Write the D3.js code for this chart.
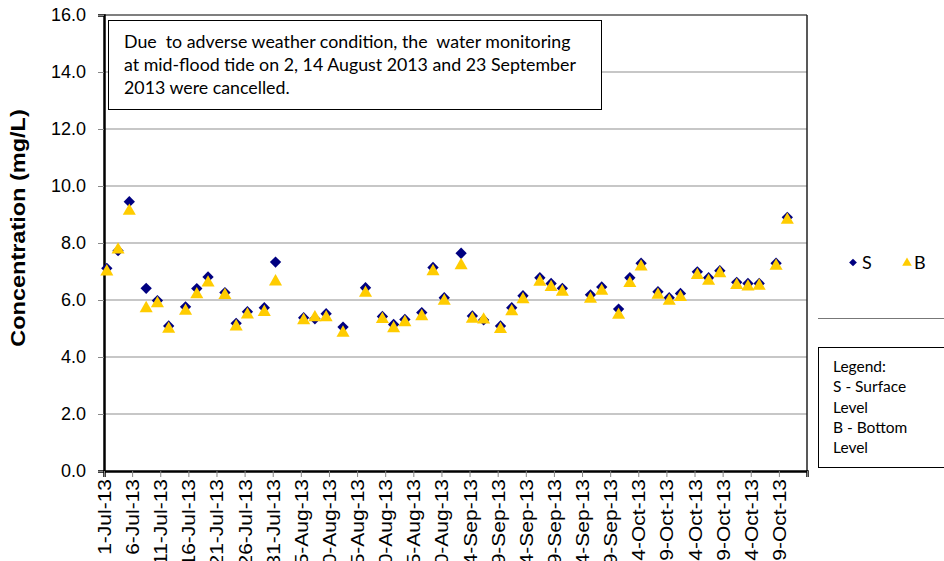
<!DOCTYPE html>
<html>
<head>
<meta charset="utf-8">
<title>Concentration chart</title>
<script src="https://d3js.org/d3.v7.min.js"></script>
<style>
  body {margin: 0; background: #fff;}
  svg {display: block; font-family: "Liberation Sans", Arial, sans-serif;}
  .note, .leg {font-family: Lato, "Open Sans", sans-serif;}
</style>
</head>
<body>
<div id="chart"></div>
<script>
// sampling dates (mid-flood tide)
var dates = ["2013-07-01","2013-07-03","2013-07-05","2013-07-08","2013-07-10","2013-07-12","2013-07-15","2013-07-17","2013-07-19","2013-07-22",
             "2013-07-24","2013-07-26","2013-07-29","2013-07-31","2013-08-05","2013-08-07","2013-08-09","2013-08-12","2013-08-16","2013-08-19",
             "2013-08-21","2013-08-23","2013-08-26","2013-08-28","2013-08-30","2013-09-02","2013-09-04","2013-09-06","2013-09-09","2013-09-11",
             "2013-09-13","2013-09-16","2013-09-18","2013-09-20","2013-09-25","2013-09-27","2013-09-30","2013-10-02","2013-10-04","2013-10-07",
             "2013-10-09","2013-10-11","2013-10-14","2013-10-16","2013-10-18","2013-10-21","2013-10-23","2013-10-25","2013-10-28","2013-10-30"];
// S - surface level
var surface = [7.11,7.73,9.45,6.41,5.98,5.09,5.76,6.40,6.81,6.26,
               5.18,5.59,5.73,7.33,5.38,5.34,5.52,5.05,6.43,5.42,
               5.14,5.32,5.56,7.14,6.08,7.64,5.44,5.30,5.09,5.73,
               6.15,6.78,6.58,6.41,6.18,6.46,5.68,6.78,7.29,6.29,
               6.08,6.23,6.99,6.78,7.03,6.62,6.58,6.58,7.29,8.90];
// B - bottom level
var bottom = [7.03,7.80,9.16,5.74,5.91,5.02,5.65,6.23,6.64,6.20,
              5.10,5.52,5.61,6.68,5.32,5.42,5.42,4.88,6.28,5.36,
              5.04,5.25,5.46,7.04,6.00,7.25,5.37,5.34,5.01,5.63,
              6.05,6.67,6.48,6.32,6.07,6.35,5.51,6.62,7.20,6.21,
              6.00,6.13,6.90,6.70,6.97,6.55,6.50,6.53,7.23,8.84];
var xTickLabels = ["1-Jul-13","6-Jul-13","11-Jul-13","16-Jul-13","21-Jul-13","26-Jul-13","31-Jul-13","5-Aug-13","10-Aug-13","15-Aug-13",
                   "20-Aug-13","25-Aug-13","30-Aug-13","4-Sep-13","9-Sep-13","14-Sep-13","19-Sep-13","24-Sep-13","29-Sep-13","4-Oct-13",
                   "9-Oct-13","14-Oct-13","19-Oct-13","24-Oct-13","29-Oct-13"];
var yTicks = [0,2,4,6,8,10,12,14,16];
var noteLines = ["Due  to adverse weather condition, the  water monitoring",
                 "at mid-flood tide on 2, 14 August 2013 and 23 September",
                 "2013 were cancelled."];
var legendLines = ["Legend:","S - Surface","Level","B - Bottom","Level"];

var W = 944, H = 561;
var plotL = 104, plotR = 807, plotT = 15, plotB = 471;
var parse = d3.utcParse("%Y-%m-%d");
var parseTick = d3.utcParse("%-d-%b-%y");
var tickDates = xTickLabels.map(parseTick);
var axisEnd = d3.utcDay.offset(tickDates[tickDates.length - 1], 5);

var data = dates.map(function(d, i) { return {date: parse(d), s: surface[i], b: bottom[i]}; });

var svg = d3.select("#chart").append("svg").attr("width", W).attr("height", H);

var x = d3.scaleUtc().domain([tickDates[0], axisEnd]).range([plotL, plotR]);
var y = d3.scaleLinear().domain([0, 16]).range([plotB, plotT]);
var half = (x(d3.utcDay.offset(tickDates[0], 1)) - x(tickDates[0])) / 2;

// gridlines
svg.append("g").selectAll("line").data(yTicks.slice(1)).join("line")
   .attr("x1", plotL).attr("x2", plotR)
   .attr("y1", function(d) { return y(d); }).attr("y2", function(d) { return y(d); })
   .attr("stroke", function(d) { return d == 16 ? "#555" : "#b4b4b4"; })
   .attr("stroke-width", 1.3);
svg.append("line").attr("x1", plotR).attr("x2", plotR).attr("y1", plotT).attr("y2", plotB)
   .attr("stroke", "#222").attr("stroke-width", 1.5);

// y axis
var yAxis = svg.append("g").attr("transform", "translate(" + plotL + ",0)")
   .call(d3.axisLeft(y).tickValues(yTicks).tickFormat(d3.format(".1f")).tickSize(6).tickPadding(12));
yAxis.select(".domain").attr("stroke", "#000").attr("stroke-width", 2.5);
yAxis.selectAll(".tick line").attr("stroke", "#888");
yAxis.selectAll("text").attr("font-size", 18).attr("fill", "#000").attr("font-family", "Liberation Sans, Arial");

// x axis (labels slightly condensed like the original)
var xAxis = svg.append("g").attr("transform", "translate(0," + plotB + ")")
   .call(d3.axisBottom(x).tickValues(tickDates.concat([axisEnd])).tickSize(6)
         .tickFormat(function(d, i) { return i < xTickLabels.length ? xTickLabels[i] : ""; }));
xAxis.select(".domain").attr("stroke", "#000").attr("stroke-width", 2.5);
xAxis.selectAll(".tick line").attr("stroke", "#888");
xAxis.selectAll("text").attr("font-size", 21).attr("fill", "#000").attr("font-family", "Liberation Sans, Arial")
   .attr("text-anchor", "end").attr("transform", "rotate(-90) scale(1,0.88)")
   .attr("x", -8).attr("y", 0).attr("dy", "0.35em");

svg.append("text").attr("transform", "translate(25,228) rotate(-90) scale(1,0.85)")
   .attr("text-anchor", "middle").attr("font-weight", "bold").attr("font-size", 23.5)
   .text("Concentration (mg/L)");

// markers
var diamond = d3.symbol().type(d3.symbolSquare).size(64);
var tri = d3.symbol().type(d3.symbolTriangle).size(74);
svg.append("g").selectAll("path").data(data).join("path")
   .attr("d", diamond)
   .attr("transform", function(d) { return "translate(" + (x(d.date) + half) + "," + y(d.s) + ") rotate(45)"; })
   .attr("fill", "#000080");
svg.append("g").selectAll("path").data(data).join("path")
   .attr("d", tri)
   .attr("transform", function(d) { return "translate(" + (x(d.date) + half) + "," + (y(d.b) + 1) + ")"; })
   .attr("fill", "#ffcc00");

// note box
svg.append("rect").attr("x", 108.5).attr("y", 20.5).attr("width", 493).attr("height", 89)
   .attr("fill", "#fff").attr("stroke", "#000");
svg.append("g").attr("class", "note").selectAll("text").data(noteLines).join("text")
   .attr("x", 124).attr("y", function(d, i) { return 48 + i * 23; })
   .attr("font-size", 17.8).style("white-space", "pre").text(function(d) { return d; });

// legend
svg.append("line").attr("x1", 818).attr("x2", 944).attr("y1", 318.5).attr("y2", 318.5).attr("stroke", "#777");
svg.append("rect").attr("x", 818.5).attr("y", 347.5).attr("width", 140).attr("height", 120)
   .attr("fill", "#fff").attr("stroke", "#000");
var lg = svg.append("g").attr("class", "leg");
lg.append("path").attr("d", diamond.size(30)).attr("transform", "translate(853,262.5) rotate(45)").attr("fill", "#000080");
lg.append("text").attr("x", 862).attr("y", 269).attr("font-size", 18).text("S");
lg.append("path").attr("d", tri.size(40)).attr("transform", "translate(907,263)").attr("fill", "#ffcc00");
lg.append("text").attr("x", 914).attr("y", 269).attr("font-size", 18).text("B");
lg.selectAll("text.l").data(legendLines).join("text").attr("class", "l")
   .attr("x", 833).attr("y", function(d, i) { return 372 + i * 20.3; })
   .attr("font-size", 15.5).text(function(d) { return d; });
</script>
</body>
</html>
